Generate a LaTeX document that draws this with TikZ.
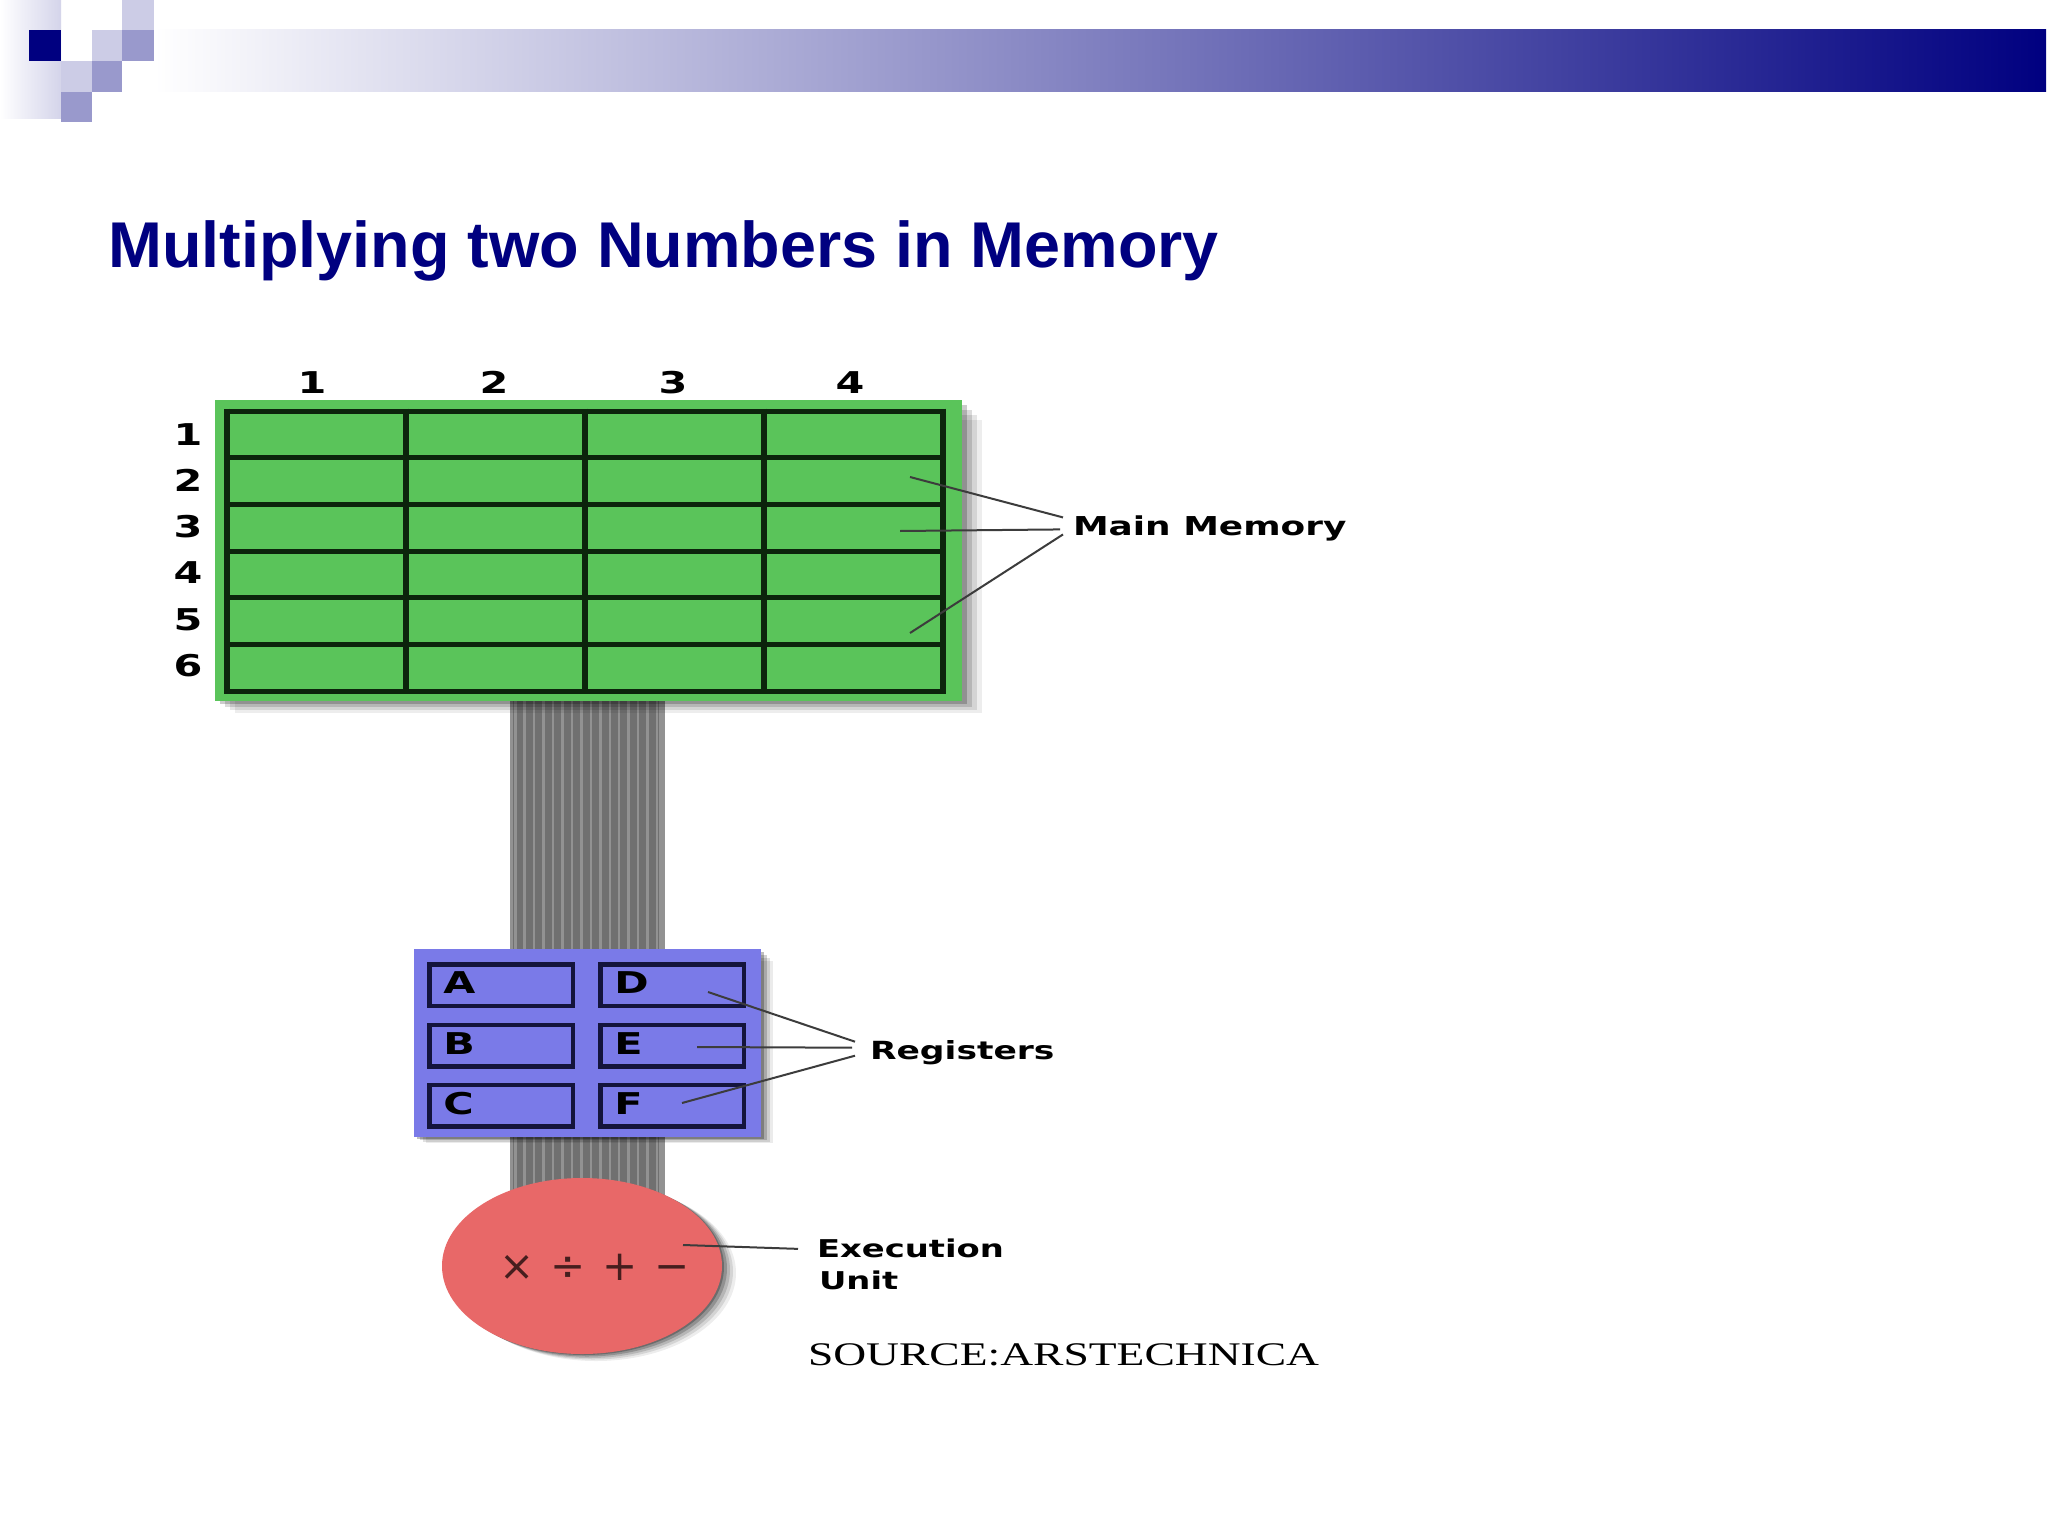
\documentclass[tikz,border=0pt]{standalone}
\usepackage{fontspec}
\setmainfont{Liberation Sans}
\newfontfamily\titlefont{Liberation Sans}
\newfontfamily\pixfont{DejaVu Sans}[FakeStretch=1.38]
\newfontfamily\symfont{DejaVu Sans}
\newfontfamily\srcfont{Liberation Serif}[FakeStretch=1.38]
\usetikzlibrary{shapes.geometric,calc}
\definecolor{navy}{RGB}{0,0,128}
\definecolor{lav}{RGB}{204,204,230}
\definecolor{lavmid}{RGB}{153,153,204}
\definecolor{lavfade}{RGB}{212,212,234}
\definecolor{memgreen}{RGB}{90,196,90}
\definecolor{griddark}{RGB}{12,36,12}
\definecolor{regblue}{RGB}{122,122,232}
\definecolor{regdark}{RGB}{20,20,60}
\definecolor{eured}{RGB}{232,104,104}
\definecolor{busgray}{RGB}{112,112,112}
\definecolor{buslight}{RGB}{146,146,146}
\definecolor{leader}{RGB}{60,60,60}
\definecolor{symdark}{RGB}{70,30,30}
\newcommand\pixsize[1]{\pixfont\bfseries\fontsize{#1}{#1}\selectfont}
\begin{document}
\begin{tikzpicture}[x=1pt,y=-1pt,
  leaderline/.style={draw=leader, line width=2pt},
  gridline/.style={draw=griddark, line width=5pt},
  vgridline/.style={draw=griddark, line width=6.5pt},
  regbox/.style={draw=regdark, line width=4.5pt, fill=regblue, minimum width=143.5pt, minimum height=41.5pt, inner sep=0pt, outer sep=0pt},
  pixlbl/.style={inner sep=0pt, outer sep=0pt, text=black},
  sym/.style={inner sep=0pt, anchor=base, text=symdark, font=\symfont\fontsize{42}{42}\selectfont},
]
\fill[white] (0,0) rectangle (2048,1536);
\useasboundingbox (0,0) rectangle (2048,1536);
% header
\shade[left color=white, right color=lavfade] (0,0) rectangle (61,119);
\shade[left color=white, right color=navy] (154,30) rectangle (2046,92);
\fill[lav] (122,0) rectangle (154,30);
\fill[navy] (29,30) rectangle (61,61);
\fill[lav] (92,30) rectangle (122,61);
\fill[lavmid] (122,30) rectangle (154,61);
\fill[lav] (61,61) rectangle (92,92);
\fill[lavmid] (92,61) rectangle (122,92);
\fill[lavmid] (61,92) rectangle (92,122);
% title
\node[anchor=base west, inner sep=0pt, text=navy, font=\titlefont\bfseries\fontsize{64.7}{70}\selectfont] (title) at (108,267) {Multiplying two Numbers in Memory};
% bus
\fill[busgray] (510,701) rectangle (665,1215);
\foreach \i in {0,...,15} \fill[buslight] ({514+\i*9.45},701) rectangle ({516.5+\i*9.45},1215);
\fill[buslight] (510,701) rectangle (513,1215);
\fill[buslight] (659,701) rectangle (665,1215);
% main memory block
\foreach \d/\o in {20/0.07,15/0.1,10/0.14,5/0.2} \fill[black,opacity=\o] ({215+\d},{400+\d}) rectangle ({962+\d},{701+\d*0.6});
\node (mem) [fill=memgreen, minimum width=747pt, minimum height=301pt, inner sep=0pt, anchor=north west] at (215,400) {};
\foreach \k in {1,...,5} \draw[gridline] (227,{411+\k*46.67}) -- (943,{411+\k*46.67});
\draw[gridline] (227,411) -- (943,411);
\draw[gridline] (227,691) -- (943,691);
\foreach \x in {227,406,585,764,943} \draw[vgridline] (\x,408.5) -- (\x,693.5);
\foreach \x/\t in {312/1,494/2,673/3,850/4} \node[pixlbl, anchor=base, font={\pixsize{30}}] (col\t) at (\x,393) {\t};
\foreach \y/\t in {445/1,491/2,537/3,583/4,630/5,676/6} \node[pixlbl, anchor=base, font={\pixsize{30}}] (row\t) at (188,\y) {\t};
% registers block
\foreach \d/\o in {12/0.08,9/0.12,6/0.18,3/0.25} \fill[black,opacity=\o] ({414+\d},{949+\d}) rectangle ({761+\d},{1137+\d*0.5});
\node (regs) [fill=regblue, minimum width=347pt, minimum height=188pt, inner sep=0pt, anchor=north west] at (414,949) {};
\node[regbox] (rA) at (501,985) {};
\node[regbox] (rB) at (501,1045.5) {};
\node[regbox] (rC) at (501,1105.5) {};
\node[regbox] (rD) at (672,985) {};
\node[regbox] (rE) at (672,1045.5) {};
\node[regbox] (rF) at (672,1105.5) {};
\foreach \r in {A,B,C,D,E,F} \node[pixlbl, anchor=west, font={\pixsize{30}}] (l\r) at ($(r\r.west)+(14,-2)$) {\r};
% execution unit
\foreach \d/\o in {14/0.07,11/0.1,8/0.14,5/0.2,2/0.25} \fill[black,opacity=\o] ({582+\d},{1266+\d*0.5}) ellipse [x radius=140pt, y radius=88pt];
\node (eu) [ellipse, fill=eured, minimum width=280pt, minimum height=176pt, inner sep=0pt] at (582,1266) {};
\node[sym] (s1) at (517,1280) {×};
\node[sym] (s2) at (568,1280) {÷};
\node[sym] (s3) at (620,1280) {+};
\node[sym] (s4) at (672,1280) {−};
% labels
\node[pixlbl, anchor=base west, font={\pixsize{26}}] (mm) at (1073,535) {Main Memory};
\node[pixlbl, anchor=base west, font={\pixsize{25}}] (rg) at (870,1059) {Registers};
\node[pixlbl, anchor=base west, font={\pixsize{24.5}}] (exe) at (817,1257) {Execution};
\node[pixlbl, anchor=base west, font={\pixsize{24.5}}] (unit) at (819,1289) {Unit};
\node[pixlbl, anchor=base west, font=\srcfont\fontsize{33}{33}\selectfont] (src) at (808,1365) {SOURCE:ARSTECHNICA};
% leaders
\coordinate (m1) at (910,477);
\coordinate (m2) at (900,531);
\coordinate (m3) at (910,633);
\draw[leaderline] (m1) -- ($(mm.west)+(-10,-10.5)$);
\draw[leaderline] (m2) -- ($(mm.west)+(-13,1.5)$);
\draw[leaderline] (m3) -- ($(mm.west)+(-10,6.5)$);
\coordinate (g1) at (708,992);
\coordinate (g2) at (697,1047);
\coordinate (g3) at (682,1103);
\draw[leaderline] (g1) -- ($(rg.west)+(-15,-10.5)$);
\draw[leaderline] (g2) -- ($(rg.west)+(-18,-4.5)$);
\draw[leaderline] (g3) -- ($(rg.west)+(-15,3.5)$);
\coordinate (x1) at (683,1245);
\draw[leaderline] (x1) -- ($(exe.west)+(-19,1)$);
\end{tikzpicture}
\end{document}
